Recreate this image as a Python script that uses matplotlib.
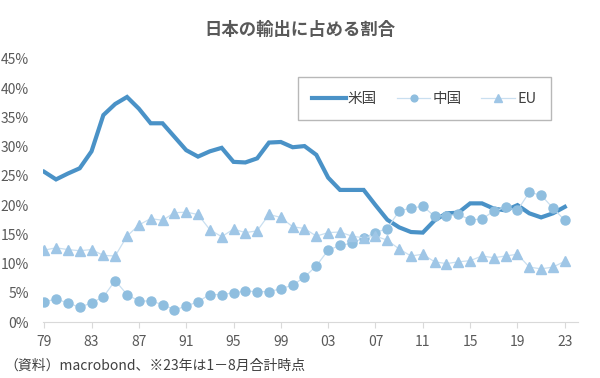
import matplotlib
matplotlib.use("Agg")
import matplotlib.pyplot as plt
from matplotlib.ticker import FuncFormatter

plt.rcParams['font.family'] = ['Noto Sans CJK JP', 'DejaVu Sans']

# years 1979-2023
years = list(range(1979, 2024))

# share of Japan's exports (%)
usa = [25.7, 24.4, 25.4, 26.3, 29.2, 35.4, 37.3, 38.5, 36.5, 34.0,
       34.0, 31.7, 29.4, 28.3, 29.2, 29.8, 27.4, 27.3, 28.0, 30.7,
       30.8, 29.9, 30.1, 28.6, 24.7, 22.6, 22.6, 22.6, 20.0, 17.5,
       16.2, 15.4, 15.3, 17.4, 18.6, 18.7, 20.3, 20.3, 19.4, 19.1,
       20.0, 18.6, 17.9, 18.6, 19.7]
china = [3.5, 3.9, 3.3, 2.5, 3.3, 4.3, 7.1, 4.7, 3.6, 3.6,
         3.0, 2.1, 2.7, 3.5, 4.7, 4.7, 5.0, 5.3, 5.2, 5.2,
         5.7, 6.3, 7.7, 9.6, 12.3, 13.1, 13.5, 14.4, 15.3, 16.0,
         19.0, 19.5, 19.8, 18.1, 18.2, 18.4, 17.5, 17.6, 19.0, 19.6,
         19.1, 22.2, 21.7, 19.5, 17.4]
eu = [12.3, 12.7, 12.4, 12.2, 12.4, 11.4, 11.3, 14.7, 16.6, 17.7,
      17.4, 18.7, 18.8, 18.4, 15.8, 14.6, 15.9, 15.3, 15.6, 18.4,
      17.9, 16.3, 16.0, 14.7, 15.3, 15.4, 14.7, 14.4, 14.7, 14.0,
      12.5, 11.3, 11.6, 10.3, 10.0, 10.3, 10.5, 11.3, 11.0, 11.3,
      11.6, 9.4, 9.1, 9.4, 10.4]

tick_years = list(range(1979, 2024, 4))
tick_labels = [f"{y % 100:02d}" for y in tick_years]

fig = plt.figure(figsize=(6, 3.78), dpi=100)
ax = fig.add_axes([0.0717, 0.148, 0.8913, 0.696])

ax.plot(years, usa, color='#4a92c7', lw=3.0, solid_joinstyle='miter', label='米国')
ax.plot(years, china, color='#c9dff0', lw=0.9, marker='o', ms=6.5,
        mfc='#8fbedf', mec='#8fbedf', label='中国')
ax.plot(years, eu, color='#c9dff0', lw=0.9, marker='^', ms=7,
        mfc='#9fc6e6', mec='#9fc6e6', label='EU')

ax.set_xlim(1978.9, 2024.1)
ax.set_ylim(0, 45)
ax.set_yticks(range(0, 46, 5))
ax.yaxis.set_major_formatter(FuncFormatter(lambda v, p: f"{v:.0f}%"))
ax.set_xticks(tick_years)
ax.set_xticklabels(tick_labels)

for s in ['top', 'right', 'left']:
    ax.spines[s].set_visible(False)
ax.spines['bottom'].set_color('#d9d9d9')
ax.tick_params(axis='x', colors='#d9d9d9', length=4, labelcolor='#595959', labelsize=10, pad=5)
ax.tick_params(axis='y', length=0, labelcolor='#595959', labelsize=10, pad=10)

leg = ax.legend(loc='center', bbox_to_anchor=(0.707, 0.739), bbox_transform=fig.transFigure,
                ncol=3, frameon=True, fancybox=False, edgecolor='#a6a6a6',
                handlelength=2.3, handletextpad=0.15, columnspacing=1.35, borderpad=1.0,
                markerscale=0.75, prop={'size': 10.5})
leg.get_frame().set_linewidth(1.0)
for t in leg.get_texts():
    t.set_color('#404040')

fig.text(0.5, 0.92, '日本の輸出に占める割合', ha='center', va='center', fontsize=12.5,
         fontweight='bold', color='#595959')
fig.text(0.008, 0.032, '（資料）macrobond、※23年は1－8月合計時点', ha='left', va='center',
         fontsize=10, color='#404040')

fig.savefig('out.png', dpi=100)
